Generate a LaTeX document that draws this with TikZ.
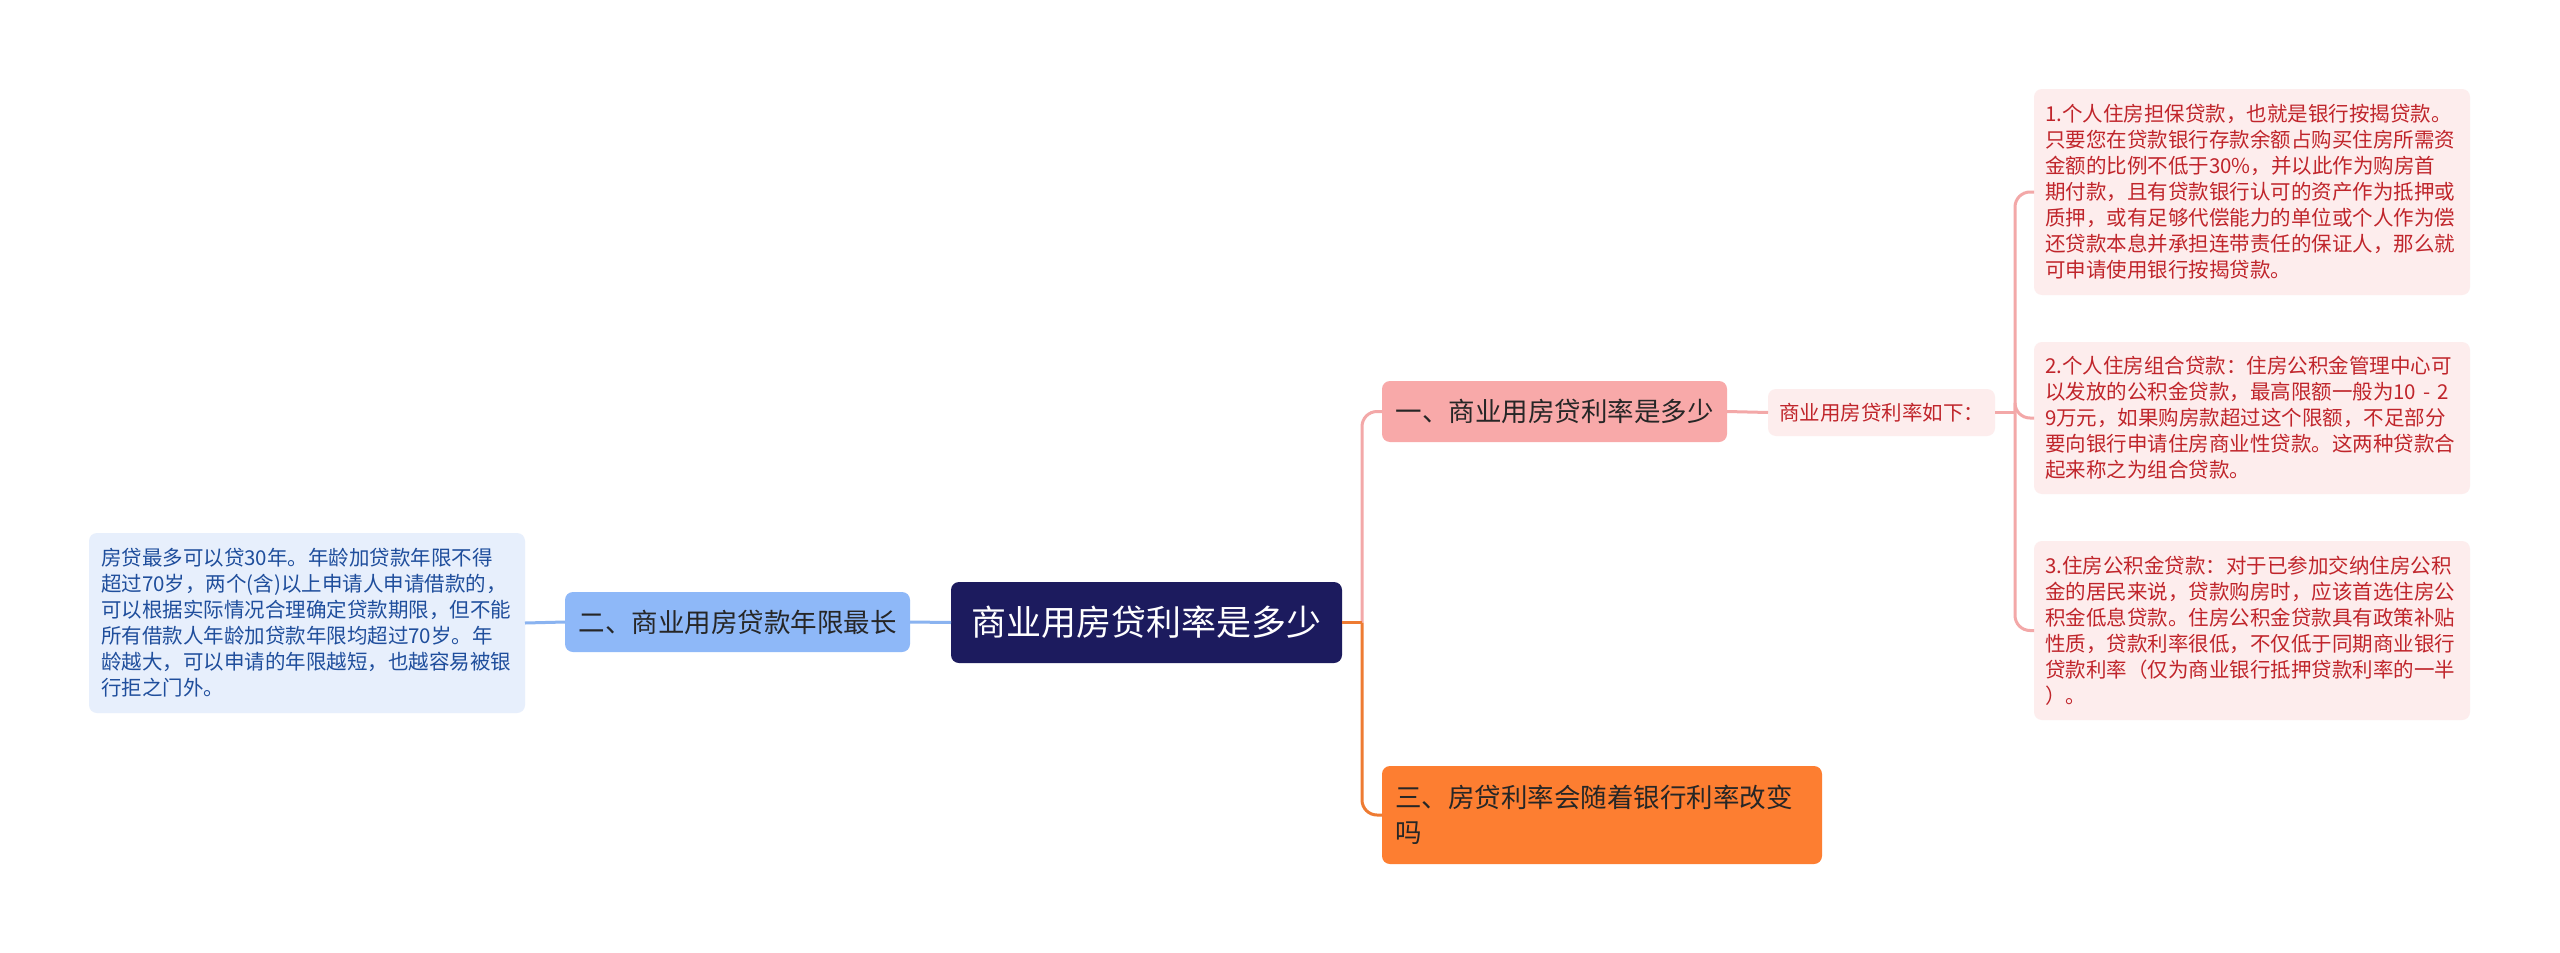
\documentclass[tikz,border=0pt]{standalone}
\usepackage{fontspec}
\setmainfont{Noto Sans CJK SC}
\usetikzlibrary{calc}
\definecolor{navy}{HTML}{1C1B5E}
\definecolor{pinkfill}{HTML}{F8A9A9}
\definecolor{palepink}{HTML}{FDEDED}
\definecolor{leafred}{HTML}{C0252B}
\definecolor{pinkline}{HTML}{F3A8A8}
\definecolor{orangefill}{HTML}{FD7E31}
\definecolor{orangeline}{HTML}{EE7B32}
\definecolor{bluefill}{HTML}{8EB8F8}
\definecolor{blueline}{HTML}{8AB3F0}
\definecolor{paleblue}{HTML}{E7EFFC}
\definecolor{bluetext}{HTML}{1F4E9C}
\definecolor{darktext}{HTML}{262626}
\tikzset{
  box/.style={rectangle, rounded corners=8pt, anchor=north west, outer sep=0pt},
  centerbox/.style={box, fill=navy, text=white, inner sep=0pt,
    font=\fontsize{35}{42}\selectfont, align=center},
  branchbox/.style={box, text=darktext, inner xsep=13pt, inner ysep=0pt,
    font=\fontsize{26.5}{35}\selectfont},
  leafbox/.style={box, inner xsep=11pt, inner ysep=0pt, align=left,
    font=\fontsize{20.5}{26}\selectfont},
  conn/.style={line width=3pt},
}
\begin{document}
\begin{tikzpicture}[x=1pt,y=-1pt]
\useasboundingbox (0,0) rectangle (2560,953);
\fill[white] (0,0) rectangle (2560,953);

% center
\node[centerbox, minimum width=391pt, minimum height=81pt] (c) at (951,582) {商业用房贷利率是多少};

% branch 1
\node[branchbox, fill=pinkfill, minimum width=345pt, minimum height=61pt, align=center] (b1) at (1382,381) {一、商业用房贷利率是多少};
% subnode
\node[box, fill=palepink, text=leafred, inner sep=0pt, minimum width=227pt, minimum height=47pt,
  font=\fontsize{20.5}{26}\selectfont] (s) at (1768,389) {商业用房贷利率如下：};

% leaves right
\node[leafbox, fill=palepink, text=leafred, text width=414pt, minimum height=206pt] (l1) at (2034,89) {1.个人住房担保贷款，也就是银行按揭贷款。\\只要您在贷款银行存款余额占购买住房所需资\\金额的比例不低于30\%，并以此作为购房首\\期付款，且有贷款银行认可的资产作为抵押或\\质押，或有足够代偿能力的单位或个人作为偿\\还贷款本息并承担连带责任的保证人，那么就\\可申请使用银行按揭贷款。};
\node[leafbox, fill=palepink, text=leafred, text width=414pt, minimum height=152pt] (l2) at (2034,342) {2.个人住房组合贷款：住房公积金管理中心可\\以发放的公积金贷款，最高限额一般为10 - 2\\9万元，如果购房款超过这个限额，不足部分\\要向银行申请住房商业性贷款。这两种贷款合\\起来称之为组合贷款。};
\node[leafbox, fill=palepink, text=leafred, text width=414pt, minimum height=179pt] (l3) at (2034,541) {3.住房公积金贷款：对于已参加交纳住房公积\\金的居民来说，贷款购房时，应该首选住房公\\积金低息贷款。住房公积金贷款具有政策补贴\\性质，贷款利率很低，不仅低于同期商业银行\\贷款利率（仅为商业银行抵押贷款利率的一半\\）。};

% branch 2 and left leaf
\node[branchbox, fill=bluefill, minimum width=345pt, minimum height=60pt, align=center] (b2) at (565,592) {二、商业用房贷款年限最长};
\node[leafbox, inner xsep=12pt, fill=paleblue, text=bluetext, text width=412pt, minimum height=180pt] (bl) at (89,533) {房贷最多可以贷30年。年龄加贷款年限不得\\超过70岁，两个(含)以上申请人申请借款的，\\可以根据实际情况合理确定贷款期限，但不能\\所有借款人年龄加贷款年限均超过70岁。年\\龄越大，可以申请的年限越短，也越容易被银\\行拒之门外。};

% branch 3
\node[branchbox, fill=orangefill, text width=414pt, align=left, minimum height=98pt] (b3) at (1382,766) {三、房贷利率会随着银行利率改变\\吗};

% connectors
\coordinate (j1) at ($(c.east)+(20,0)$);
\coordinate (j2) at ($(s.east)+(20,0)$);
\draw[conn, pinkline, rounded corners=15pt] (j1) |- (b1.west);
\draw[conn, orangeline, rounded corners=15pt] (j1) |- (b3.west);
\draw[conn, orangeline] (c.east) -- (j1);
\draw[conn, pinkline] (b1.east) -- (s.west);
\draw[conn, pinkline] (s.east) -- (j2);
\draw[conn, pinkline, rounded corners=15pt] (j2) |- (l1.west);
\draw[conn, pinkline, rounded corners=15pt] (j2) |- (l2.west);
\draw[conn, pinkline, rounded corners=15pt] (j2) |- (l3.west);
\draw[conn, blueline] (c.west) -- (b2.east);
\draw[conn, blueline] (b2.west) -- (bl.east);
\end{tikzpicture}
\end{document}
